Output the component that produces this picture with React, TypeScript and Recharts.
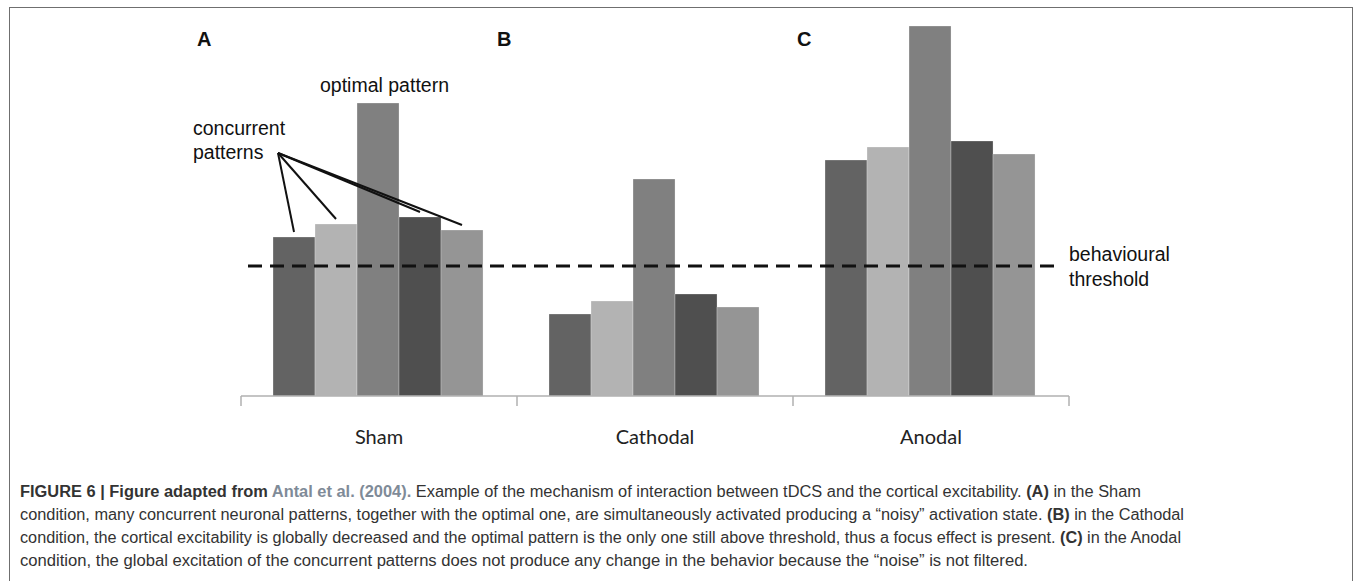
import React from 'react';
import { BarChart, Bar, XAxis, YAxis, ReferenceLine, LabelList } from 'recharts';

// Conditions along the x axis
const conditions = ['Sham', 'Cathodal', 'Anodal'];

// Activation of the five neuronal patterns (arbitrary units), pattern 3 is the optimal one
const pattern1 = [159, 82, 236];
const pattern2 = [172, 95, 249];
const pattern3 = [293, 217, 370];
const pattern4 = [179, 102, 255];
const pattern5 = [166, 89, 242];

const threshold = 130;

const seriesKeys = ['p1', 'p2', 'p3', 'p4', 'p5'];
const seriesColors = ['#636363', '#b3b3b3', '#808080', '#4f4f4f', '#959595'];

const data = conditions.map((name, i) => ({
  name,
  p1: pattern1[i],
  p2: pattern2[i],
  p3: pattern3[i],
  p4: pattern4[i],
  p5: pattern5[i],
}));

const W = 1355;
const H = 581;
const CHART_H = 470;

// where the "concurrent patterns" pointer lines start
const anchor = { x: 278, y: 153 };

const captionLines = [
  {
    end: 1141,
    parts: [
      { t: 'FIGURE 6 | Figure adapted from ', b: true },
      { t: 'Antal et al. (2004).', b: true, c: '#7f8b98' },
      { t: ' Example of the mechanism of interaction between tDCS and the cortical excitability. ' },
      { t: '(A)', b: true },
      { t: ' in the Sham' },
    ],
  },
  {
    end: 1184,
    parts: [
      { t: 'condition, many concurrent neuronal patterns, together with the optimal one, are simultaneously activated producing a \u201cnoisy\u201d activation state. ' },
      { t: '(B)', b: true },
      { t: ' in the Cathodal' },
    ],
  },
  {
    end: 1181,
    parts: [
      { t: 'condition, the cortical excitability is globally decreased and the optimal pattern is the only one still above threshold, thus a focus effect is present. ' },
      { t: '(C)', b: true },
      { t: ' in the Anodal' },
    ],
  },
  {
    end: 1028,
    parts: [
      { t: 'condition, the global excitation of the concurrent patterns does not produce any change in the behavior because the \u201cnoise\u201d is not filtered.' },
    ],
  },
];

const CategoryTick = (props: any) => {
  const { x, y, payload, index, visibleTicksCount } = props;
  const half = payload.offset || 0;
  const isLast = index === visibleTicksCount - 1;
  return (
    <g>
      <line x1={x - half} x2={x - half} y1={y} y2={y + 10} stroke="#b0b0b0" strokeWidth={1.5} />
      {isLast && <line x1={x + half} x2={x + half} y1={y} y2={y + 10} stroke="#b0b0b0" strokeWidth={1.5} />}
      <text x={x} y={y + 48} textAnchor="middle" fontFamily="Lato" fontSize={20} fill="#222">
        {payload.value}
      </text>
    </g>
  );
};

// pointer from the "concurrent patterns" note to the top of the Sham bars
const pointer = (props: any) => {
  const { x, y, width, index } = props;
  if (index !== 0) return null;
  return (
    <line x1={anchor.x} y1={anchor.y} x2={x + width / 2} y2={y - 5} stroke="#111" strokeWidth={2} />
  );
};

const DashedThreshold = (props: any) => {
  const { x1, x2, y1 } = props;
  return (
    <line x1={x1 + 7} x2={x2 - 12} y1={y1} y2={y1} stroke="#111" strokeWidth={3} strokeDasharray="14 8" />
  );
};

export default function App() {
  return (
    <div style={{ position: 'absolute', left: 0, top: 0, width: W, height: H, background: '#fff', overflow: 'hidden' }}>
      <div
        style={{
          position: 'absolute',
          left: 9,
          top: 7,
          width: W - 9 - 2,
          height: H,
          border: '1px solid #6f6f6f',
          boxSizing: 'border-box',
        }}
      />
      <div style={{ position: 'absolute', left: 0, top: 0 }}>
        <BarChart
          width={W}
          height={CHART_H}
          data={data}
          margin={{ top: 16, right: 286, left: 241, bottom: 14 }}
          barCategoryGap="11.6%"
          barGap={0}
        >
          <XAxis
            dataKey="name"
            height={60}
            axisLine={{ stroke: '#b0b0b0', strokeWidth: 1.5 }}
            tickLine={false}
            tickSize={0}
            tickMargin={0}
            tick={<CategoryTick />}
            interval={0}
          />
          <YAxis hide domain={[0, 380]} />
          {seriesKeys.map((k, i) => (
            <Bar
              key={k}
              dataKey={k}
              fill={seriesColors[i]}
              stroke="#ffffff"
              strokeOpacity={0.25}
              strokeWidth={1}
              isAnimationActive={false}
            >
              {i !== 2 && <LabelList dataKey={k} content={pointer} />}
            </Bar>
          ))}
          <ReferenceLine y={threshold} shape={<DashedThreshold />} ifOverflow="visible" />
        </BarChart>
      </div>
      <svg width={W} height={CHART_H} style={{ position: 'absolute', left: 0, top: 0, pointerEvents: 'none' }}>
        <g fontFamily="Liberation Sans, Arial, sans-serif" fill="#111">
          <text x={197} y={46} fontSize={20} fontWeight="bold">A</text>
          <text x={497} y={46} fontSize={20} fontWeight="bold">B</text>
          <text x={797} y={46} fontSize={20} fontWeight="bold">C</text>
          <text x={320} y={92} fontSize={19.5}>optimal pattern</text>
          <text x={193} y={135} fontSize={19.5}>concurrent</text>
          <text x={193} y={159} fontSize={19.5}>patterns</text>
          <text x={1069} y={261} fontSize={19.5}>behavioural</text>
          <text x={1069} y={286} fontSize={19.5}>threshold</text>
        </g>
      </svg>
      <svg width={W} height={H - CHART_H} style={{ position: 'absolute', left: 0, top: CHART_H }}>
        {captionLines.map((line, i) => (
          <text
            key={i}
            x={20}
            y={27 + i * 23}
            fontFamily="Liberation Sans, Arial, sans-serif"
            fontSize={16}
            fill="#333"
            textLength={line.end - 20}
            lengthAdjust="spacingAndGlyphs"
          >
            {line.parts.map((p: any, j) => (
              <tspan key={j} fontWeight={p.b ? 'bold' : 'normal'} fill={p.c || '#333'}>
                {p.t}
              </tspan>
            ))}
          </text>
        ))}
      </svg>
    </div>
  );
}
